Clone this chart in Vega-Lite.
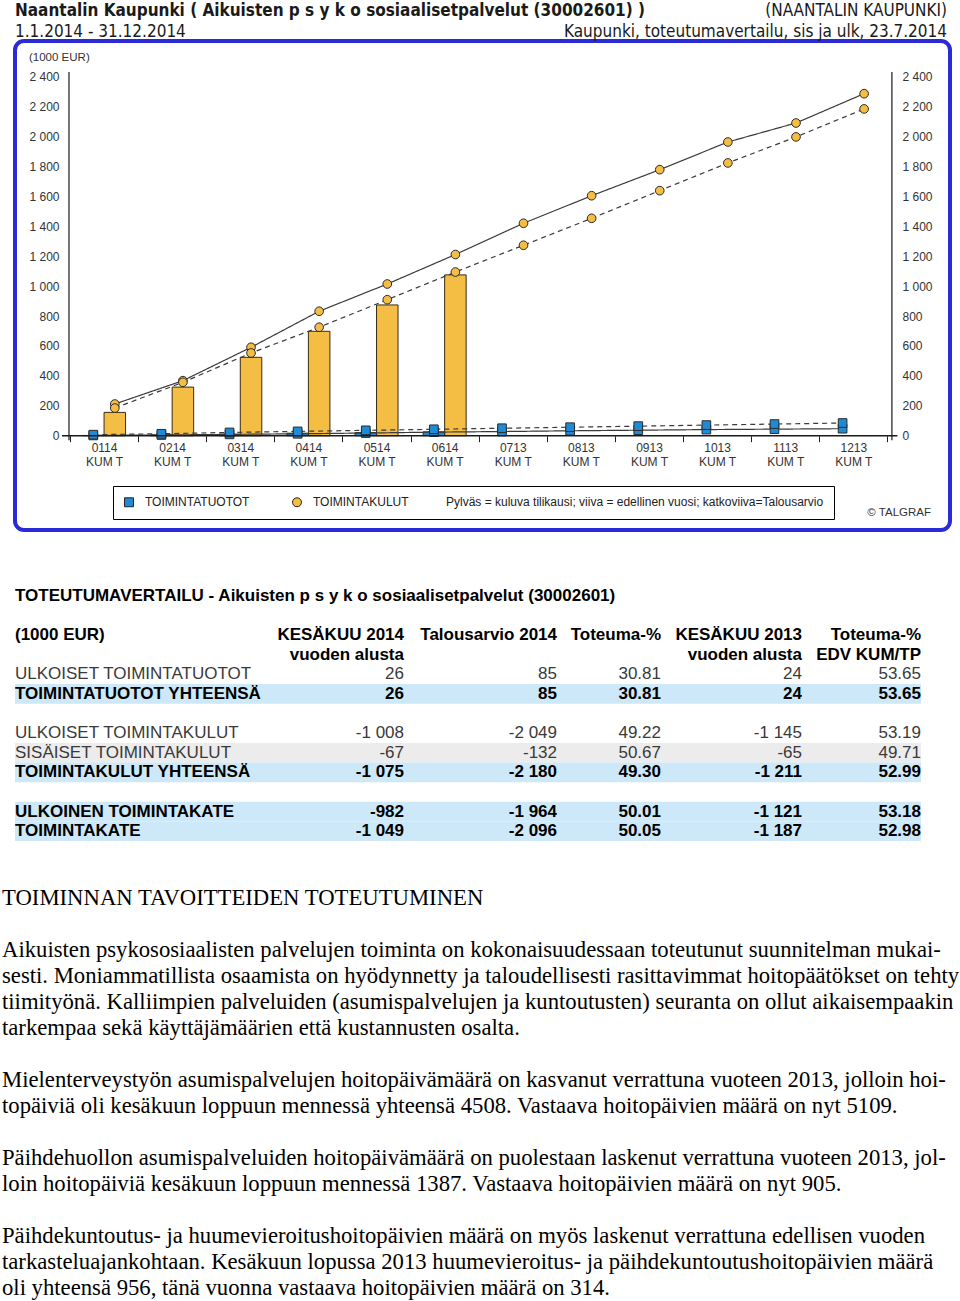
{
  "$schema": "https://vega.github.io/schema/vega-lite/v6.json",
  "padding": {"left": 2, "top": 0, "right": 5, "bottom": 2},
  "bounds": "flush",
  "spacing": 56,
  "config": {
    "view": {"stroke": null},
    "font": "Liberation Sans",
    "locale": {"number": {"decimal": ".", "thousands": " ", "grouping": [3], "currency": ["", ""], "minus": "-"}}
  },
  "datasets": {
    "kuvio": [
      {"kk": "0114", "laji": "TOIMINTAKULUT", "kausi": "2014", "arvo": 156},
      {"kk": "0214", "laji": "TOIMINTAKULUT", "kausi": "2014", "arvo": 325},
      {"kk": "0314", "laji": "TOIMINTAKULUT", "kausi": "2014", "arvo": 524},
      {"kk": "0414", "laji": "TOIMINTAKULUT", "kausi": "2014", "arvo": 698},
      {"kk": "0514", "laji": "TOIMINTAKULUT", "kausi": "2014", "arvo": 874},
      {"kk": "0614", "laji": "TOIMINTAKULUT", "kausi": "2014", "arvo": 1075},
      {"kk": "0114", "laji": "TOIMINTATUOTOT", "kausi": "2014", "arvo": 2},
      {"kk": "0214", "laji": "TOIMINTATUOTOT", "kausi": "2014", "arvo": 6},
      {"kk": "0314", "laji": "TOIMINTATUOTOT", "kausi": "2014", "arvo": 10},
      {"kk": "0414", "laji": "TOIMINTATUOTOT", "kausi": "2014", "arvo": 17},
      {"kk": "0514", "laji": "TOIMINTATUOTOT", "kausi": "2014", "arvo": 21},
      {"kk": "0614", "laji": "TOIMINTATUOTOT", "kausi": "2014", "arvo": 26},
      {"kk": "0114", "laji": "TOIMINTAKULUT", "kausi": "2013", "arvo": 212},
      {"kk": "0214", "laji": "TOIMINTAKULUT", "kausi": "2013", "arvo": 368},
      {"kk": "0314", "laji": "TOIMINTAKULUT", "kausi": "2013", "arvo": 591},
      {"kk": "0414", "laji": "TOIMINTAKULUT", "kausi": "2013", "arvo": 832},
      {"kk": "0514", "laji": "TOIMINTAKULUT", "kausi": "2013", "arvo": 1014},
      {"kk": "0614", "laji": "TOIMINTAKULUT", "kausi": "2013", "arvo": 1211},
      {"kk": "0713", "laji": "TOIMINTAKULUT", "kausi": "2013", "arvo": 1420},
      {"kk": "0813", "laji": "TOIMINTAKULUT", "kausi": "2013", "arvo": 1604},
      {"kk": "0913", "laji": "TOIMINTAKULUT", "kausi": "2013", "arvo": 1778},
      {"kk": "1013", "laji": "TOIMINTAKULUT", "kausi": "2013", "arvo": 1963},
      {"kk": "1113", "laji": "TOIMINTAKULUT", "kausi": "2013", "arvo": 2090},
      {"kk": "1213", "laji": "TOIMINTAKULUT", "kausi": "2013", "arvo": 2286},
      {"kk": "0114", "laji": "TOIMINTAKULUT", "kausi": "TA", "arvo": 185},
      {"kk": "0214", "laji": "TOIMINTAKULUT", "kausi": "TA", "arvo": 357},
      {"kk": "0314", "laji": "TOIMINTAKULUT", "kausi": "TA", "arvo": 553},
      {"kk": "0414", "laji": "TOIMINTAKULUT", "kausi": "TA", "arvo": 725},
      {"kk": "0514", "laji": "TOIMINTAKULUT", "kausi": "TA", "arvo": 909},
      {"kk": "0614", "laji": "TOIMINTAKULUT", "kausi": "TA", "arvo": 1094},
      {"kk": "0713", "laji": "TOIMINTAKULUT", "kausi": "TA", "arvo": 1273},
      {"kk": "0813", "laji": "TOIMINTAKULUT", "kausi": "TA", "arvo": 1453},
      {"kk": "0913", "laji": "TOIMINTAKULUT", "kausi": "TA", "arvo": 1638},
      {"kk": "1013", "laji": "TOIMINTAKULUT", "kausi": "TA", "arvo": 1823},
      {"kk": "1113", "laji": "TOIMINTAKULUT", "kausi": "TA", "arvo": 1997},
      {"kk": "1213", "laji": "TOIMINTAKULUT", "kausi": "TA", "arvo": 2184},
      {"kk": "0114", "laji": "TOIMINTATUOTOT", "kausi": "2013", "arvo": 2},
      {"kk": "0214", "laji": "TOIMINTATUOTOT", "kausi": "2013", "arvo": 5},
      {"kk": "0314", "laji": "TOIMINTATUOTOT", "kausi": "2013", "arvo": 9},
      {"kk": "0414", "laji": "TOIMINTATUOTOT", "kausi": "2013", "arvo": 13},
      {"kk": "0514", "laji": "TOIMINTATUOTOT", "kausi": "2013", "arvo": 18},
      {"kk": "0614", "laji": "TOIMINTATUOTOT", "kausi": "2013", "arvo": 24},
      {"kk": "0713", "laji": "TOIMINTATUOTOT", "kausi": "2013", "arvo": 28},
      {"kk": "0813", "laji": "TOIMINTATUOTOT", "kausi": "2013", "arvo": 33},
      {"kk": "0913", "laji": "TOIMINTATUOTOT", "kausi": "2013", "arvo": 37},
      {"kk": "1013", "laji": "TOIMINTATUOTOT", "kausi": "2013", "arvo": 41},
      {"kk": "1113", "laji": "TOIMINTATUOTOT", "kausi": "2013", "arvo": 44},
      {"kk": "1213", "laji": "TOIMINTATUOTOT", "kausi": "2013", "arvo": 47},
      {"kk": "0114", "laji": "TOIMINTATUOTOT", "kausi": "TA", "arvo": 7},
      {"kk": "0214", "laji": "TOIMINTATUOTOT", "kausi": "TA", "arvo": 13},
      {"kk": "0314", "laji": "TOIMINTATUOTOT", "kausi": "TA", "arvo": 22},
      {"kk": "0414", "laji": "TOIMINTATUOTOT", "kausi": "TA", "arvo": 29},
      {"kk": "0514", "laji": "TOIMINTATUOTOT", "kausi": "TA", "arvo": 36},
      {"kk": "0614", "laji": "TOIMINTATUOTOT", "kausi": "TA", "arvo": 43},
      {"kk": "0713", "laji": "TOIMINTATUOTOT", "kausi": "TA", "arvo": 50},
      {"kk": "0813", "laji": "TOIMINTATUOTOT", "kausi": "TA", "arvo": 57},
      {"kk": "0913", "laji": "TOIMINTATUOTOT", "kausi": "TA", "arvo": 64},
      {"kk": "1013", "laji": "TOIMINTATUOTOT", "kausi": "TA", "arvo": 71},
      {"kk": "1113", "laji": "TOIMINTATUOTOT", "kausi": "TA", "arvo": 78},
      {"kk": "1213", "laji": "TOIMINTATUOTOT", "kausi": "TA", "arvo": 85}
    ],
    "rivit": [
      {"rivi": "r1", "nimi": "ULKOISET TOIMINTATUOTOT", "k2014": 26, "ta2014": 85, "tot": 30.81, "k2013": 24, "edv": 53.65, "ryhma": "rivi"},
      {"rivi": "r2", "nimi": "TOIMINTATUOTOT YHTEENSÄ", "k2014": 26, "ta2014": 85, "tot": 30.81, "k2013": 24, "edv": 53.65, "ryhma": "summa"},
      {"rivi": "r3", "nimi": "ULKOISET TOIMINTAKULUT", "k2014": -1008, "ta2014": -2049, "tot": 49.22, "k2013": -1145, "edv": 53.19, "ryhma": "rivi"},
      {"rivi": "r4", "nimi": "SISÄISET TOIMINTAKULUT", "k2014": -67, "ta2014": -132, "tot": 50.67, "k2013": -65, "edv": 49.71, "ryhma": "sisainen"},
      {"rivi": "r5", "nimi": "TOIMINTAKULUT YHTEENSÄ", "k2014": -1075, "ta2014": -2180, "tot": 49.30, "k2013": -1211, "edv": 52.99, "ryhma": "summa"},
      {"rivi": "r6", "nimi": "ULKOINEN TOIMINTAKATE", "k2014": -982, "ta2014": -1964, "tot": 50.01, "k2013": -1121, "edv": 53.18, "ryhma": "summa"},
      {"rivi": "r7", "nimi": "TOIMINTAKATE", "k2014": -1049, "ta2014": -2096, "tot": 50.05, "k2013": -1187, "edv": 52.98, "ryhma": "summa"}
    ],
    "otsikot": [
      {"rivi": "t", "nimi": "TOTEUTUMAVERTAILU - Aikuisten  p s y k o sosiaalisetpalvelut (30002601)"},
      {"rivi": "h1", "nimi": "(1000 EUR)", "k2014": "KESÄKUU 2014", "ta2014": "Talousarvio 2014", "tot": "Toteuma-%", "k2013": "KESÄKUU 2013", "edv": "Toteuma-%"},
      {"rivi": "h2", "k2014": "vuoden alusta", "k2013": "vuoden alusta", "edv": "EDV KUM/TP"}
    ],
    "teksti": [
      {"rivi": "L00", "teksti": "TOIMINNAN TAVOITTEIDEN TOTEUTUMINEN"},
      {"rivi": "L02", "teksti": "Aikuisten psykososiaalisten palvelujen toiminta on kokonaisuudessaan toteutunut suunnitelman mukai-"},
      {"rivi": "L03", "teksti": "sesti. Moniammatillista osaamista on hyödynnetty ja taloudellisesti rasittavimmat hoitopäätökset on tehty"},
      {"rivi": "L04", "teksti": "tiimityönä. Kalliimpien palveluiden (asumispalvelujen ja kuntoutusten) seuranta on ollut aikaisempaakin"},
      {"rivi": "L05", "teksti": "tarkempaa sekä käyttäjämäärien että kustannusten osalta."},
      {"rivi": "L07", "teksti": "Mielenterveystyön asumispalvelujen hoitopäivämäärä on kasvanut verrattuna vuoteen 2013, jolloin hoi-"},
      {"rivi": "L08", "teksti": "topäiviä oli kesäkuun loppuun mennessä yhteensä 4508. Vastaava hoitopäivien määrä on nyt 5109."},
      {"rivi": "L10", "teksti": "Päihdehuollon asumispalveluiden hoitopäivämäärä on puolestaan laskenut verrattuna vuoteen 2013, jol-"},
      {"rivi": "L11", "teksti": "loin hoitopäiviä kesäkuun loppuun mennessä 1387. Vastaava hoitopäivien määrä on nyt 905."},
      {"rivi": "L13", "teksti": "Päihdekuntoutus- ja huumevieroitushoitopäivien määrä on myös laskenut verrattuna edellisen vuoden"},
      {"rivi": "L14", "teksti": "tarkasteluajankohtaan. Kesäkuun lopussa 2013  huumevieroitus- ja päihdekuntoutushoitopäivien määrä"},
      {"rivi": "L15", "teksti": "oli yhteensä 956, tänä vuonna vastaava hoitopäivien määrä on 314."}
    ]
  },
  "vconcat": [
    {
      "width": 935,
      "height": 489,
      "view": {"stroke": "#2a2ad8", "strokeWidth": 4, "cornerRadius": 9},
      "layer": [
        {
          "data": {"name": "kuvio"},
          "transform": [{"filter": "datum.kausi == '2014'"}],
          "mark": {"type": "bar", "stroke": "#3a2a12", "strokeWidth": 1},
          "encoding": {
            "x": {
              "field": "kk", "type": "ordinal",
              "scale": {"type": "band", "domain": ["0114","0214","0314","0414","0514","0614","0713","0813","0913","1013","1113","1213"], "paddingInner": 0, "paddingOuter": 0.863, "align": 0.4677},
              "axis": {"orient": "bottom", "offset": -94.3, "title": null, "domain": false, "ticks": true, "tickBand": "extent", "tickSize": 6, "tickColor": "#222", "labelExpr": "isValid(datum.value) && datum.label != '' ? [datum.label, 'KUM T'] : ''", "labelFontSize": 12, "labelColor": "#333", "labelPadding": 1, "labelLineHeight": 14, "labelAngle": 0}
            },
            "xOffset": {"field": "laji", "type": "nominal", "scale": {"domain": ["TOIMINTATUOTOT", "TOIMINTAKULUT"], "paddingInner": 0, "paddingOuter": 0.584}},
            "y": {
              "field": "arvo", "type": "quantitative", "stack": null,
              "scale": {"domain": [-630, 2638], "nice": false, "zero": false},
              "axis": {"orient": "left", "values": [0,200,400,600,800,1000,1200,1400,1600,1800,2000,2200,2400], "format": ",d", "domain": false, "ticks": false, "grid": false, "title": null, "labelPadding": 10, "offset": -54, "labelFontSize": 12, "labelColor": "#333"}
            },
            "color": {
              "field": "laji", "type": "nominal",
              "scale": {"domain": ["TOIMINTATUOTOT", "TOIMINTAKULUT"], "range": ["#1f8bd6", "#f4bd44"]},
              "legend": {"orient": "none", "legendX": 98, "legendY": 445, "direction": "horizontal", "title": "Pylväs = kuluva tilikausi; viiva = edellinen vuosi; katkoviiva=Talousarvio", "titleOrient": "right", "titleLimit": 1000, "titleFontWeight": "normal", "titleFontSize": 12, "titleColor": "#222", "titlePadding": 37, "labelFontSize": 12, "labelColor": "#222", "strokeColor": "#000", "fillColor": "white", "padding": 10, "columnPadding": 40, "symbolStrokeColor": "#222", "symbolStrokeWidth": 1, "symbolSize": 80, "labelOffset": 10}
            }
          }
        },
        {
          "data": {"name": "kuvio"},
          "transform": [{"filter": "datum.kausi != '2014'"}],
          "mark": {"type": "line", "color": "#3a3a3a", "strokeWidth": 1.2},
          "encoding": {
            "x": {"field": "kk", "type": "ordinal"},
            "xOffset": {"field": "laji", "type": "nominal"},
            "y": {
              "field": "arvo", "type": "quantitative",
              "axis": {"orient": "right", "values": [0,200,400,600,800,1000,1200,1400,1600,1800,2000,2200,2400], "format": ",d", "domain": false, "ticks": false, "grid": false, "title": null, "labelPadding": 10, "offset": -58, "labelFontSize": 12, "labelColor": "#333"}
            },
            "detail": {"field": "laji", "type": "nominal"},
            "strokeDash": {"field": "kausi", "type": "nominal", "scale": {"domain": ["2013", "TA"], "range": [[1, 0], [5, 4]]}, "legend": null}
          }
        },
        {
          "data": {"name": "kuvio"},
          "transform": [{"filter": "datum.kausi != '2014'"}],
          "mark": {"type": "point", "filled": true, "stroke": "#2b2b2b", "strokeWidth": 1, "size": 75, "opacity": 1},
          "encoding": {
            "x": {"field": "kk", "type": "ordinal"},
            "xOffset": {"field": "laji", "type": "nominal"},
            "y": {"field": "arvo", "type": "quantitative", "axis": null},
            "color": {
              "field": "laji", "type": "nominal",
              "legend": {"orient": "none", "legendX": 98, "legendY": 445, "direction": "horizontal", "title": "Pylväs = kuluva tilikausi; viiva = edellinen vuosi; katkoviiva=Talousarvio", "titleOrient": "right", "titleLimit": 1000, "titleFontWeight": "normal", "titleFontSize": 12, "titleColor": "#222", "titlePadding": 37, "labelFontSize": 12, "labelColor": "#222", "strokeColor": "#000", "fillColor": "white", "padding": 10, "columnPadding": 40, "symbolStrokeColor": "#222", "symbolStrokeWidth": 1, "symbolSize": 80, "labelOffset": 10}
            },
            "shape": {
              "field": "laji", "type": "nominal",
              "scale": {"domain": ["TOIMINTATUOTOT", "TOIMINTAKULUT"], "range": ["square", "circle"]},
              "legend": {"orient": "none", "legendX": 98, "legendY": 445, "direction": "horizontal", "title": "Pylväs = kuluva tilikausi; viiva = edellinen vuosi; katkoviiva=Talousarvio", "titleOrient": "right", "titleLimit": 1000, "titleFontWeight": "normal", "titleFontSize": 12, "titleColor": "#222", "titlePadding": 37, "labelFontSize": 12, "labelColor": "#222", "strokeColor": "#000", "fillColor": "white", "padding": 10, "columnPadding": 40, "symbolStrokeColor": "#222", "symbolStrokeWidth": 1, "symbolSize": 80, "labelOffset": 10}
            }
          }
        },
        {
          "data": {"values": [{}]},
          "mark": {"type": "rule", "color": "#1a1a1a", "strokeWidth": 1.2, "xOffset": -1},
          "encoding": {
            "x": {"datum": "0114", "type": "ordinal", "bandPosition": 0},
            "y": {"datum": -30, "type": "quantitative", "axis": null},
            "y2": {"datum": 2430}
          }
        },
        {
          "data": {"values": [{}]},
          "mark": {"type": "rule", "color": "#1a1a1a", "strokeWidth": 1.2, "xOffset": 4.5},
          "encoding": {
            "x": {"datum": "1213", "type": "ordinal", "bandPosition": 1},
            "y": {"datum": -30, "type": "quantitative", "axis": null},
            "y2": {"datum": 2430}
          }
        },
        {
          "data": {"values": [{}]},
          "mark": {"type": "rule", "color": "#1a1a1a", "strokeWidth": 1.4, "xOffset": -8, "x2Offset": 10},
          "encoding": {
            "x": {"datum": "0114", "type": "ordinal", "bandPosition": 0},
            "x2": {"datum": "1213", "bandPosition": 1},
            "y": {"datum": 0, "type": "quantitative", "axis": null}
          }
        },
        {
          "data": {"values": [{"t": "Naantalin Kaupunki ( Aikuisten  p s y k o sosiaalisetpalvelut (30002601) )"}]},
          "mark": {"type": "text", "align": "left", "baseline": "alphabetic", "font": "Liberation Sans Narrow, DejaVu Sans Condensed, sans-serif", "fontSize": 17, "fontWeight": "bold", "color": "#1a1a1a", "dx": -55},
          "encoding": {
            "x": {"datum": "0114", "type": "ordinal", "bandPosition": 0},
            "y": {"datum": 2805, "type": "quantitative", "axis": null},
            "text": {"field": "t", "type": "nominal"}
          }
        },
        {
          "data": {"values": [{"t": "1.1.2014 - 31.12.2014"}]},
          "mark": {"type": "text", "align": "left", "baseline": "alphabetic", "font": "Liberation Sans Narrow, DejaVu Sans Condensed, sans-serif", "fontSize": 17, "color": "#1a1a1a", "dx": -55},
          "encoding": {
            "x": {"datum": "0114", "type": "ordinal", "bandPosition": 0},
            "y": {"datum": 2665, "type": "quantitative", "axis": null},
            "text": {"field": "t", "type": "nominal"}
          }
        },
        {
          "data": {"values": [{"t": "(NAANTALIN KAUPUNKI)"}]},
          "mark": {"type": "text", "align": "right", "baseline": "alphabetic", "font": "Liberation Sans Narrow, DejaVu Sans Condensed, sans-serif", "fontSize": 17, "color": "#1a1a1a", "dx": 59.6},
          "encoding": {
            "x": {"datum": "1213", "type": "ordinal", "bandPosition": 1},
            "y": {"datum": 2805, "type": "quantitative", "axis": null},
            "text": {"field": "t", "type": "nominal"}
          }
        },
        {
          "data": {"values": [{"t": "Kaupunki, toteutumavertailu, sis ja ulk, 23.7.2014"}]},
          "mark": {"type": "text", "align": "right", "baseline": "alphabetic", "font": "Liberation Sans Narrow, DejaVu Sans Condensed, sans-serif", "fontSize": 17, "color": "#1a1a1a", "dx": 59.6},
          "encoding": {
            "x": {"datum": "1213", "type": "ordinal", "bandPosition": 1},
            "y": {"datum": 2665, "type": "quantitative", "axis": null},
            "text": {"field": "t", "type": "nominal"}
          }
        },
        {
          "data": {"values": [{"t": "(1000 EUR)"}]},
          "mark": {"type": "text", "align": "left", "baseline": "middle", "fontSize": 11.5, "color": "#333", "dx": -41},
          "encoding": {
            "x": {"datum": "0114", "type": "ordinal", "bandPosition": 0},
            "y": {"datum": 2525, "type": "quantitative", "axis": null},
            "text": {"field": "t", "type": "nominal"}
          }
        },
        {
          "data": {"values": [{"t": "© TALGRAF"}]},
          "mark": {"type": "text", "align": "right", "baseline": "middle", "fontSize": 11.5, "color": "#333", "dx": 43.6},
          "encoding": {
            "x": {"datum": "1213", "type": "ordinal", "bandPosition": 1},
            "y": {"datum": -517, "type": "quantitative", "axis": null},
            "text": {"field": "t", "type": "nominal"}
          }
        }
      ],
      "resolve": {"axis": {"y": "independent"}}
    },
    {
      "hconcat": [
        {
          "width": 389,
          "height": 255,
          "layer": [
            {
              "data": {"name": "rivit"},
              "transform": [{"filter": "datum.ryhma != 'rivi'"}],
              "mark": {"type": "rect"},
              "encoding": {
                "y": {"field": "rivi", "type": "nominal", "scale": {"type": "band", "domain": ["t","b0","h1","h2","r1","r2","b1","r3","r4","r5","b2","r6","r7"], "paddingInner": 0, "paddingOuter": 0}, "axis": null},
                "fill": {"field": "ryhma", "type": "nominal", "scale": {"domain": ["summa", "sisainen"], "range": ["#cde8f8", "#ececec"]}, "legend": null}
              }
            },
            {
              "data": {"name": "otsikot"},
              "transform": [{"filter": "isValid(datum.nimi)"}],
              "mark": {"type": "text", "align": "left", "baseline": "middle", "fontSize": 17, "fontWeight": "bold", "color": "#000"},
              "encoding": {
                "x": {"datum": "s", "type": "nominal", "bandPosition": 0, "scale": {"type": "band", "domain": ["s"], "paddingInner": 0, "paddingOuter": 0}, "axis": null},
                "y": {"field": "rivi", "type": "nominal", "scale": {"type": "band", "domain": ["t","b0","h1","h2","r1","r2","b1","r3","r4","r5","b2","r6","r7"], "paddingInner": 0, "paddingOuter": 0}, "axis": null},
                "text": {"field": "nimi", "type": "nominal"}
              }
            },
            {
              "data": {"name": "otsikot"},
              "transform": [{"filter": "isValid(datum.k2014)"}],
              "mark": {"type": "text", "align": "right", "baseline": "middle", "fontSize": 17, "fontWeight": "bold", "color": "#000"},
              "encoding": {
                "x": {"datum": "s", "type": "nominal", "bandPosition": 1},
                "y": {"field": "rivi", "type": "nominal", "scale": {"type": "band", "domain": ["t","b0","h1","h2","r1","r2","b1","r3","r4","r5","b2","r6","r7"], "paddingInner": 0, "paddingOuter": 0}, "axis": null},
                "text": {"field": "k2014", "type": "nominal"}
              }
            },
            {
              "data": {"name": "rivit"},
              "transform": [{"filter": "datum.ryhma != 'summa'"}],
              "mark": {"type": "text", "align": "left", "baseline": "middle", "fontSize": 17, "color": "#3a3a3a"},
              "encoding": {
                "x": {"datum": "s", "type": "nominal", "bandPosition": 0},
                "y": {"field": "rivi", "type": "nominal", "scale": {"type": "band", "domain": ["t","b0","h1","h2","r1","r2","b1","r3","r4","r5","b2","r6","r7"], "paddingInner": 0, "paddingOuter": 0}, "axis": null},
                "text": {"field": "nimi", "type": "nominal"}
              }
            },
            {
              "data": {"name": "rivit"},
              "transform": [{"filter": "datum.ryhma == 'summa'"}],
              "mark": {"type": "text", "align": "left", "baseline": "middle", "fontSize": 17, "fontWeight": "bold", "color": "#000"},
              "encoding": {
                "x": {"datum": "s", "type": "nominal", "bandPosition": 0},
                "y": {"field": "rivi", "type": "nominal", "scale": {"type": "band", "domain": ["t","b0","h1","h2","r1","r2","b1","r3","r4","r5","b2","r6","r7"], "paddingInner": 0, "paddingOuter": 0}, "axis": null},
                "text": {"field": "nimi", "type": "nominal"}
              }
            },
            {
              "data": {"name": "rivit"},
              "transform": [{"filter": "datum.ryhma != 'summa'"}],
              "mark": {"type": "text", "align": "right", "baseline": "middle", "fontSize": 17, "color": "#3a3a3a"},
              "encoding": {
                "x": {"datum": "s", "type": "nominal", "bandPosition": 1},
                "y": {"field": "rivi", "type": "nominal", "scale": {"type": "band", "domain": ["t","b0","h1","h2","r1","r2","b1","r3","r4","r5","b2","r6","r7"], "paddingInner": 0, "paddingOuter": 0}, "axis": null},
                "text": {"field": "k2014", "type": "quantitative", "format": ",d"}
              }
            },
            {
              "data": {"name": "rivit"},
              "transform": [{"filter": "datum.ryhma == 'summa'"}],
              "mark": {"type": "text", "align": "right", "baseline": "middle", "fontSize": 17, "fontWeight": "bold", "color": "#000"},
              "encoding": {
                "x": {"datum": "s", "type": "nominal", "bandPosition": 1},
                "y": {"field": "rivi", "type": "nominal", "scale": {"type": "band", "domain": ["t","b0","h1","h2","r1","r2","b1","r3","r4","r5","b2","r6","r7"], "paddingInner": 0, "paddingOuter": 0}, "axis": null},
                "text": {"field": "k2014", "type": "quantitative", "format": ",d"}
              }
            },
            {
              "data": {"name": "teksti"},
              "mark": {"type": "text", "align": "left", "baseline": "middle", "font": "Liberation Serif", "fontSize": 22.7, "dx": -13, "color": "#000"},
              "encoding": {
                "x": {"datum": "s", "type": "nominal", "bandPosition": 0},
                "y": {"field": "rivi", "type": "nominal", "scale": {"type": "band", "domain": ["L00","L01","L02","L03","L04","L05","L06","L07","L08","L09","L10","L11","L12","L13","L14","L15"], "range": [299, 715], "paddingInner": 0, "paddingOuter": 0}, "axis": null},
                "text": {"field": "teksti", "type": "nominal"}
              }
            }
          ],
          "resolve": {"scale": {"y": "independent"}}
        },
        {
          "width": 153,
          "height": 255,
          "layer": [
            {
              "data": {"name": "rivit"},
              "transform": [{"filter": "datum.ryhma != 'rivi'"}],
              "mark": {"type": "rect"},
              "encoding": {
                "y": {"field": "rivi", "type": "nominal", "scale": {"type": "band", "domain": ["t","b0","h1","h2","r1","r2","b1","r3","r4","r5","b2","r6","r7"], "paddingInner": 0, "paddingOuter": 0}, "axis": null},
                "fill": {"field": "ryhma", "type": "nominal", "scale": {"domain": ["summa", "sisainen"], "range": ["#cde8f8", "#ececec"]}, "legend": null}
              }
            },
            {
              "data": {"name": "otsikot"},
              "transform": [{"filter": "isValid(datum.ta2014)"}],
              "mark": {"type": "text", "align": "right", "baseline": "middle", "fontSize": 17, "fontWeight": "bold", "color": "#000"},
              "encoding": {
                "x": {"datum": "s", "type": "nominal", "bandPosition": 1, "scale": {"type": "band", "domain": ["s"], "paddingInner": 0, "paddingOuter": 0}, "axis": null},
                "y": {"field": "rivi", "type": "nominal"},
                "text": {"field": "ta2014", "type": "nominal"}
              }
            },
            {
              "data": {"name": "rivit"},
              "transform": [{"filter": "datum.ryhma != 'summa'"}],
              "mark": {"type": "text", "align": "right", "baseline": "middle", "fontSize": 17, "color": "#3a3a3a"},
              "encoding": {
                "x": {"datum": "s", "type": "nominal", "bandPosition": 1},
                "y": {"field": "rivi", "type": "nominal"},
                "text": {"field": "ta2014", "type": "quantitative", "format": ",d"}
              }
            },
            {
              "data": {"name": "rivit"},
              "transform": [{"filter": "datum.ryhma == 'summa'"}],
              "mark": {"type": "text", "align": "right", "baseline": "middle", "fontSize": 17, "fontWeight": "bold", "color": "#000"},
              "encoding": {
                "x": {"datum": "s", "type": "nominal", "bandPosition": 1},
                "y": {"field": "rivi", "type": "nominal"},
                "text": {"field": "ta2014", "type": "quantitative", "format": ",d"}
              }
            }
          ]
        },
        {
          "width": 104,
          "height": 255,
          "layer": [
            {
              "data": {"name": "rivit"},
              "transform": [{"filter": "datum.ryhma != 'rivi'"}],
              "mark": {"type": "rect"},
              "encoding": {
                "y": {"field": "rivi", "type": "nominal", "scale": {"type": "band", "domain": ["t","b0","h1","h2","r1","r2","b1","r3","r4","r5","b2","r6","r7"], "paddingInner": 0, "paddingOuter": 0}, "axis": null},
                "fill": {"field": "ryhma", "type": "nominal", "scale": {"domain": ["summa", "sisainen"], "range": ["#cde8f8", "#ececec"]}, "legend": null}
              }
            },
            {
              "data": {"name": "otsikot"},
              "transform": [{"filter": "isValid(datum.tot)"}],
              "mark": {"type": "text", "align": "right", "baseline": "middle", "fontSize": 17, "fontWeight": "bold", "color": "#000"},
              "encoding": {
                "x": {"datum": "s", "type": "nominal", "bandPosition": 1, "scale": {"type": "band", "domain": ["s"], "paddingInner": 0, "paddingOuter": 0}, "axis": null},
                "y": {"field": "rivi", "type": "nominal"},
                "text": {"field": "tot", "type": "nominal"}
              }
            },
            {
              "data": {"name": "rivit"},
              "transform": [{"filter": "datum.ryhma != 'summa'"}],
              "mark": {"type": "text", "align": "right", "baseline": "middle", "fontSize": 17, "color": "#3a3a3a"},
              "encoding": {
                "x": {"datum": "s", "type": "nominal", "bandPosition": 1},
                "y": {"field": "rivi", "type": "nominal"},
                "text": {"field": "tot", "type": "quantitative", "format": ".2f"}
              }
            },
            {
              "data": {"name": "rivit"},
              "transform": [{"filter": "datum.ryhma == 'summa'"}],
              "mark": {"type": "text", "align": "right", "baseline": "middle", "fontSize": 17, "fontWeight": "bold", "color": "#000"},
              "encoding": {
                "x": {"datum": "s", "type": "nominal", "bandPosition": 1},
                "y": {"field": "rivi", "type": "nominal"},
                "text": {"field": "tot", "type": "quantitative", "format": ".2f"}
              }
            }
          ]
        },
        {
          "width": 141,
          "height": 255,
          "layer": [
            {
              "data": {"name": "rivit"},
              "transform": [{"filter": "datum.ryhma != 'rivi'"}],
              "mark": {"type": "rect"},
              "encoding": {
                "y": {"field": "rivi", "type": "nominal", "scale": {"type": "band", "domain": ["t","b0","h1","h2","r1","r2","b1","r3","r4","r5","b2","r6","r7"], "paddingInner": 0, "paddingOuter": 0}, "axis": null},
                "fill": {"field": "ryhma", "type": "nominal", "scale": {"domain": ["summa", "sisainen"], "range": ["#cde8f8", "#ececec"]}, "legend": null}
              }
            },
            {
              "data": {"name": "otsikot"},
              "transform": [{"filter": "isValid(datum.k2013)"}],
              "mark": {"type": "text", "align": "right", "baseline": "middle", "fontSize": 17, "fontWeight": "bold", "color": "#000"},
              "encoding": {
                "x": {"datum": "s", "type": "nominal", "bandPosition": 1, "scale": {"type": "band", "domain": ["s"], "paddingInner": 0, "paddingOuter": 0}, "axis": null},
                "y": {"field": "rivi", "type": "nominal"},
                "text": {"field": "k2013", "type": "nominal"}
              }
            },
            {
              "data": {"name": "rivit"},
              "transform": [{"filter": "datum.ryhma != 'summa'"}],
              "mark": {"type": "text", "align": "right", "baseline": "middle", "fontSize": 17, "color": "#3a3a3a"},
              "encoding": {
                "x": {"datum": "s", "type": "nominal", "bandPosition": 1},
                "y": {"field": "rivi", "type": "nominal"},
                "text": {"field": "k2013", "type": "quantitative", "format": ",d"}
              }
            },
            {
              "data": {"name": "rivit"},
              "transform": [{"filter": "datum.ryhma == 'summa'"}],
              "mark": {"type": "text", "align": "right", "baseline": "middle", "fontSize": 17, "fontWeight": "bold", "color": "#000"},
              "encoding": {
                "x": {"datum": "s", "type": "nominal", "bandPosition": 1},
                "y": {"field": "rivi", "type": "nominal"},
                "text": {"field": "k2013", "type": "quantitative", "format": ",d"}
              }
            }
          ]
        },
        {
          "width": 119,
          "height": 255,
          "layer": [
            {
              "data": {"name": "rivit"},
              "transform": [{"filter": "datum.ryhma != 'rivi'"}],
              "mark": {"type": "rect"},
              "encoding": {
                "y": {"field": "rivi", "type": "nominal", "scale": {"type": "band", "domain": ["t","b0","h1","h2","r1","r2","b1","r3","r4","r5","b2","r6","r7"], "paddingInner": 0, "paddingOuter": 0}, "axis": null},
                "fill": {"field": "ryhma", "type": "nominal", "scale": {"domain": ["summa", "sisainen"], "range": ["#cde8f8", "#ececec"]}, "legend": null}
              }
            },
            {
              "data": {"name": "otsikot"},
              "transform": [{"filter": "isValid(datum.edv)"}],
              "mark": {"type": "text", "align": "right", "baseline": "middle", "fontSize": 17, "fontWeight": "bold", "color": "#000"},
              "encoding": {
                "x": {"datum": "s", "type": "nominal", "bandPosition": 1, "scale": {"type": "band", "domain": ["s"], "paddingInner": 0, "paddingOuter": 0}, "axis": null},
                "y": {"field": "rivi", "type": "nominal"},
                "text": {"field": "edv", "type": "nominal"}
              }
            },
            {
              "data": {"name": "rivit"},
              "transform": [{"filter": "datum.ryhma != 'summa'"}],
              "mark": {"type": "text", "align": "right", "baseline": "middle", "fontSize": 17, "color": "#3a3a3a"},
              "encoding": {
                "x": {"datum": "s", "type": "nominal", "bandPosition": 1},
                "y": {"field": "rivi", "type": "nominal"},
                "text": {"field": "edv", "type": "quantitative", "format": ".2f"}
              }
            },
            {
              "data": {"name": "rivit"},
              "transform": [{"filter": "datum.ryhma == 'summa'"}],
              "mark": {"type": "text", "align": "right", "baseline": "middle", "fontSize": 17, "fontWeight": "bold", "color": "#000"},
              "encoding": {
                "x": {"datum": "s", "type": "nominal", "bandPosition": 1},
                "y": {"field": "rivi", "type": "nominal"},
                "text": {"field": "edv", "type": "quantitative", "format": ".2f"}
              }
            }
          ]
        }
      ],
      "spacing": 0,
      "bounds": "flush"
    }
  ]
}
